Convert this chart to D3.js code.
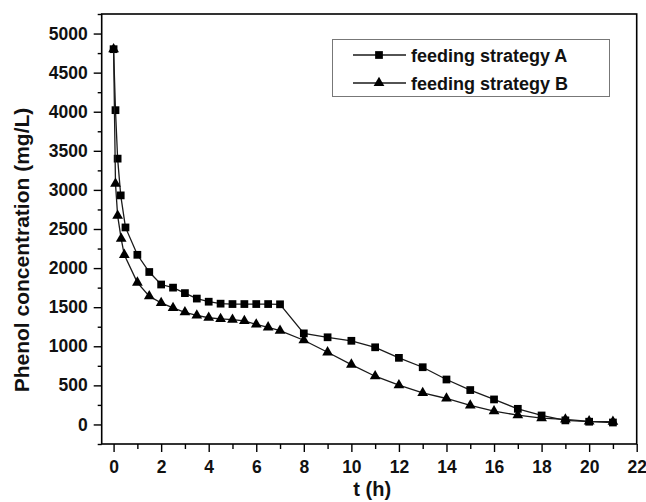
<!DOCTYPE html>
<html>
<head>
<meta charset="utf-8">
<script src="https://cdn.jsdelivr.net/npm/d3@7"></script>
<style>
  html, body { margin: 0; padding: 0; background: #fff; }
  svg { display: block; font-family: "Liberation Sans", Arial, sans-serif; font-weight: bold; }
</style>
</head>
<body>
<div id="app"></div>
<script>
// time points (h) and phenol concentration (mg/L)
const timeA = [0, 0.08, 0.17, 0.3, 0.5, 1, 1.5, 2, 2.5, 3, 3.5, 4, 4.5, 5, 5.5, 6, 6.5, 7, 8, 9, 10, 11, 12, 13, 14, 15, 16, 17, 18, 19, 20, 21];
const phenolA = [4800, 4020, 3400, 2930, 2520, 2170, 1950, 1790, 1750, 1680, 1610, 1570, 1545, 1540, 1540, 1540, 1540, 1537, 1165, 1115, 1070, 987, 852, 732, 575, 440, 320, 200, 115, 52, 35, 25];

const timeB = [0, 0.08, 0.17, 0.32, 0.45, 1, 1.5, 2, 2.5, 3, 3.5, 4, 4.5, 5, 5.5, 6, 6.5, 7, 8, 9, 10, 11, 12, 13, 14, 15, 16, 17, 18, 19, 20, 21];
const phenolB = [4800, 3080, 2670, 2375, 2170, 1815, 1640, 1555, 1490, 1435, 1395, 1365, 1350, 1340, 1325, 1280, 1243, 1200, 1077, 923, 766, 617, 502, 404, 332, 243, 170, 119, 80, 64, 40, 35];

const seriesNames = ['feeding strategy A', 'feeding strategy B'];
const xTicks = d3.range(0, 23, 2);
const yTicks = d3.range(0, 5001, 500);

const w = 646, h = 502;
const margin = { left: 101.7, right: 9.3, top: 14, bottom: 58 };

const svg = d3.select('#app').append('svg')
  .attr('width', w)
  .attr('height', h);

const x = d3.scaleLinear().domain([-0.5, 22]).range([margin.left, w - margin.right]);
const y = d3.scaleLinear().domain([-250, 5250]).range([h - margin.bottom, margin.top]);

//////////AXES//////////

svg.append('g')
  .attr('transform', `translate(0,${y(-250)})`)
  .call(d3.axisBottom(x).tickValues(xTicks).tickSize(8).tickPadding(9).tickSizeOuter(0).tickFormat(d3.format('d')));

svg.append('g')
  .attr('transform', `translate(0,${y(-250)})`)
  .call(d3.axisBottom(x).tickValues(d3.range(1, 22, 2)).tickSize(5).tickFormat('').tickSizeOuter(0));

svg.append('g')
  .attr('transform', `translate(${x(-0.5)},0)`)
  .call(d3.axisLeft(y).tickValues(yTicks).tickSize(8).tickPadding(6).tickSizeOuter(0).tickFormat(d3.format('d')));

svg.append('g')
  .attr('transform', `translate(${x(-0.5)},0)`)
  .call(d3.axisLeft(y).tickValues(d3.range(-250, 5300, 500)).tickSize(4).tickFormat('').tickSizeOuter(0));

svg.selectAll('.domain').remove();
svg.selectAll('.tick line').attr('stroke', '#000').attr('stroke-width', 1.4);
svg.selectAll('.tick text')
  .attr('fill', '#111')
  .style('font-size', '17.5px')
  .style('font-weight', 'bold')
  .style('font-family', '"Liberation Sans", Arial, sans-serif');

// frame
svg.append('rect')
  .attr('x', x(-0.5))
  .attr('y', y(5250))
  .attr('width', x(22) - x(-0.5))
  .attr('height', y(-250) - y(5250))
  .attr('fill', 'none')
  .attr('stroke', '#000')
  .attr('stroke-width', 1.6);

//////////AXIS TITLES//////////

svg.append('text')
  .attr('x', (x(-0.5) + x(22)) / 2 + 3)
  .attr('y', 496)
  .attr('text-anchor', 'middle')
  .style('font-size', '20px')
  .attr('fill', '#111')
  .text('t (h)');

svg.append('text')
  .attr('transform', 'translate(29,250) rotate(-90)')
  .attr('text-anchor', 'middle')
  .style('font-size', '21px')
  .attr('fill', '#111')
  .text('Phenol concentration (mg/L)');

//////////SERIES//////////

const dataA = timeA.map((t, i) => ({ t: t, v: phenolA[i] }));
const dataB = timeB.map((t, i) => ({ t: t, v: phenolB[i] }));

const line = d3.line().x(d => x(d.t)).y(d => y(d.v));

const square = d3.symbol().type(d3.symbolSquare).size(60);
const triangle = d3.symbol().type(d3.symbolTriangle).size(50);

[[dataA, square], [dataB, triangle]].forEach(([data, sym]) => {
  svg.append('path')
    .datum(data)
    .attr('d', line)
    .attr('fill', 'none')
    .attr('stroke', '#1a1a1a')
    .attr('stroke-width', 1.3);

  svg.append('g')
    .selectAll('path')
    .data(data)
    .join('path')
    .attr('transform', d => `translate(${x(d.t)},${y(d.v)})`)
    .attr('d', sym)
    .attr('fill', '#000');
});

//////////LEGEND//////////

const legend = svg.append('g');

legend.append('rect')
  .attr('x', 332.5)
  .attr('y', 39.5)
  .attr('width', 277)
  .attr('height', 57)
  .attr('fill', '#fff')
  .attr('stroke', '#777')
  .attr('stroke-width', 1);

const legendSymbols = [square, triangle];

seriesNames.forEach((name, i) => {
  const ly = 55 + i * 28;
  legend.append('line')
    .attr('x1', 353).attr('x2', 406)
    .attr('y1', ly).attr('y2', ly)
    .attr('stroke', '#1a1a1a')
    .attr('stroke-width', 1.3);
  legend.append('path')
    .attr('transform', `translate(379,${ly})`)
    .attr('d', legendSymbols[i])
    .attr('fill', '#000');
  legend.append('text')
    .attr('x', 411)
    .attr('y', ly + 7)
    .style('font-size', '18px')
    .attr('fill', '#111')
    .text(name);
});
</script>
</body>
</html>
